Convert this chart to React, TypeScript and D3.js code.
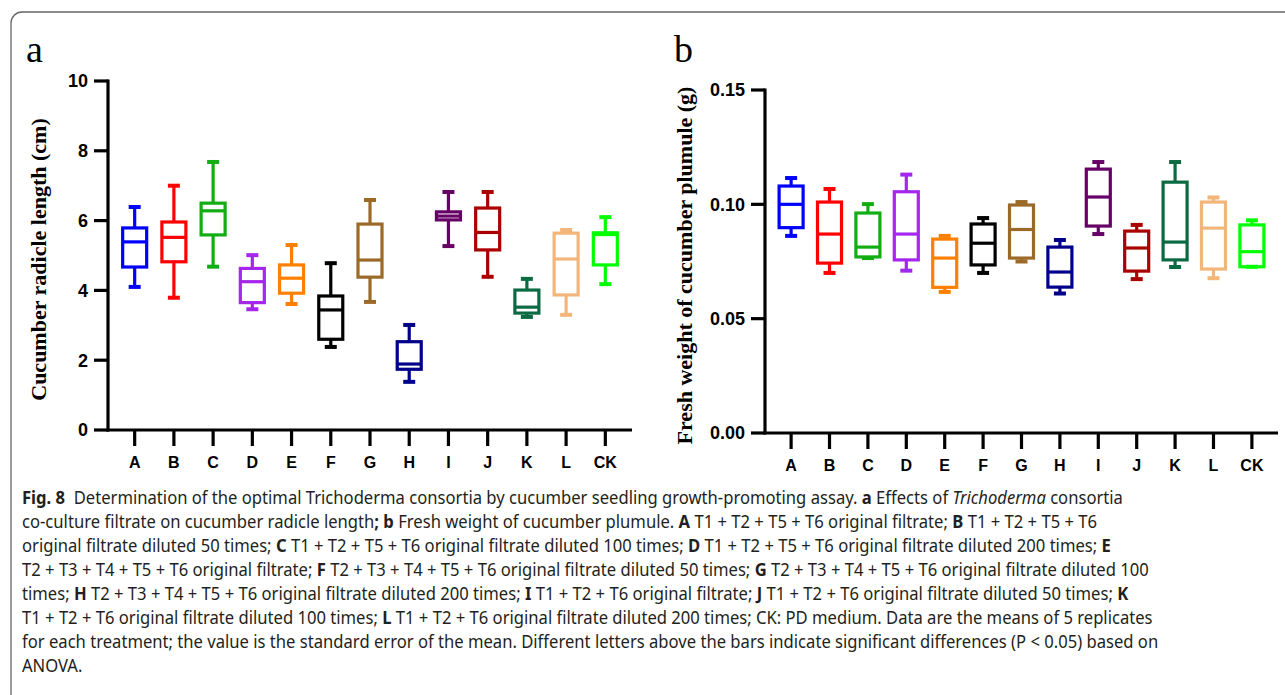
import * as d3 from "d3";
import React, { useLayoutEffect, useRef, useState } from "react";

const cats = ["A", "B", "C", "D", "E", "F", "G", "H", "I", "J", "K", "L", "CK"];
const boxColors = ["#0000ff", "#ff0000", "#12ad12", "#a526ee", "#ff8000", "#000000", "#9b6a28", "#00008b", "#660066", "#aa0000", "#0a6a42", "#f3b67a", "#00ff00"];

// panel a: cucumber radicle length (cm)
const radMax = [6.39, 7.0, 7.68, 5.01, 5.3, 4.78, 6.59, 3.01, 6.82, 6.82, 4.33, 5.73, 6.1];
const radQ3 = [5.79, 5.96, 6.5, 4.63, 4.73, 3.84, 5.9, 2.53, 6.25, 6.36, 4.01, 5.64, 5.65];
const radMed = [5.39, 5.52, 6.28, 4.25, 4.35, 3.44, 4.87, 1.89, 6.13, 5.66, 3.52, 4.9, 5.6];
const radQ1 = [4.67, 4.82, 5.59, 3.65, 3.92, 2.6, 4.38, 1.74, 6.02, 5.16, 3.35, 3.87, 4.73];
const radMin = [4.1, 3.79, 4.68, 3.46, 3.61, 2.38, 3.67, 1.38, 5.27, 4.39, 3.24, 3.3, 4.18];
const radTicks = [0, 2, 4, 6, 8, 10];

// panel b: fresh weight of plumule (g)
const wtMax = [0.1115, 0.1067, 0.1001, 0.113, 0.0862, 0.094, 0.101, 0.0844, 0.1185, 0.091, 0.1185, 0.103, 0.093];
const wtQ3 = [0.108, 0.101, 0.0962, 0.1055, 0.0848, 0.0914, 0.0997, 0.0813, 0.1154, 0.0883, 0.1097, 0.101, 0.091];
const wtMed = [0.1, 0.087, 0.0813, 0.087, 0.0765, 0.083, 0.089, 0.0704, 0.1032, 0.0809, 0.0835, 0.0896, 0.0793];
const wtQ1 = [0.0898, 0.0743, 0.077, 0.0757, 0.0637, 0.0735, 0.0765, 0.0638, 0.0905, 0.0708, 0.0757, 0.0717, 0.0727];
const wtMin = [0.0862, 0.07, 0.0765, 0.071, 0.0617, 0.07, 0.075, 0.061, 0.087, 0.0673, 0.0726, 0.0677, 0.0727];
const wtTicks = [0, 0.05, 0.1, 0.15];

type Seg = { t: string; b?: boolean; i?: boolean };
const captionLines: Seg[][] = [
  [{ t: "Fig. 8", b: true }, { t: "  Determination of the optimal Trichoderma consortia by cucumber seedling growth-promoting assay. " }, { t: "a", b: true }, { t: " Effects of " }, { t: "Trichoderma", i: true }, { t: " consortia" }],
  [{ t: "co-culture filtrate on cucumber radicle length" }, { t: "; b", b: true }, { t: " Fresh weight of cucumber plumule. " }, { t: "A", b: true }, { t: " T1 + T2 + T5 + T6 original filtrate; " }, { t: "B", b: true }, { t: " T1 + T2 + T5 + T6" }],
  [{ t: "original filtrate diluted 50 times; " }, { t: "C", b: true }, { t: " T1 + T2 + T5 + T6 original filtrate diluted 100 times; " }, { t: "D", b: true }, { t: " T1 + T2 + T5 + T6 original filtrate diluted 200 times; " }, { t: "E", b: true }],
  [{ t: "T2 + T3 + T4 + T5 + T6 original filtrate; " }, { t: "F", b: true }, { t: " T2 + T3 + T4 + T5 + T6 original filtrate diluted 50 times; " }, { t: "G", b: true }, { t: " T2 + T3 + T4 + T5 + T6 original filtrate diluted 100" }],
  [{ t: "times; " }, { t: "H", b: true }, { t: " T2 + T3 + T4 + T5 + T6 original filtrate diluted 200 times; " }, { t: "I", b: true }, { t: " T1 + T2 + T6 original filtrate; " }, { t: "J", b: true }, { t: " T1 + T2 + T6 original filtrate diluted 50 times; " }, { t: "K", b: true }],
  [{ t: "T1 + T2 + T6 original filtrate diluted 100 times; " }, { t: "L", b: true }, { t: " T1 + T2 + T6 original filtrate diluted 200 times; CK: PD medium. Data are the means of 5 replicates" }],
  [{ t: "for each treatment; the value is the standard error of the mean. Different letters above the bars indicate significant differences (P < 0.05) based on" }],
  [{ t: "ANOVA." }],
];

const W = 1285;
const H = 695;
const SW = 3.2;

function Panel(props: {
  left: number; right: number; top: number; bottom: number;
  max: number[]; q3: number[]; med: number[]; q1: number[]; min: number[];
  domain: [number, number]; ticks: number[]; fmt: (v: number) => string;
  title: string; titleX: number; letter: string; letterX: number;
}) {
  const { left, right, top, bottom } = props;
  const x = d3.scalePoint<string>().domain(cats).range([left, right]).padding(0.68);
  const y = d3.scaleLinear().domain(props.domain).range([bottom, top]);
  const bw = 24;
  const cw = 12;
  return (
    <g>
      <text x={props.letterX} y={62} fontFamily="'Liberation Serif', serif" fontSize={38}>{props.letter}</text>
      <text
        transform={`translate(${props.titleX},${(top + bottom) / 2 + 4}) rotate(-90)`}
        textAnchor="middle" fontFamily="'Liberation Serif', serif" fontWeight="bold" fontSize={22}
      >{props.title}</text>
      {cats.map((c, i) => {
        const cx = x(c)!;
        const col = boxColors[i];
        return (
          <g key={c} stroke={col} strokeWidth={SW} fill="none">
            <line x1={cx} x2={cx} y1={y(props.max[i])} y2={y(props.q3[i])} />
            <line x1={cx} x2={cx} y1={y(props.q1[i])} y2={y(props.min[i])} />
            <line x1={cx - cw / 2} x2={cx + cw / 2} y1={y(props.max[i])} y2={y(props.max[i])} strokeWidth={4} />
            <line x1={cx - cw / 2} x2={cx + cw / 2} y1={y(props.min[i])} y2={y(props.min[i])} strokeWidth={4} />
            <rect x={cx - bw / 2} width={bw} y={y(props.q3[i])} height={y(props.q1[i]) - y(props.q3[i])} />
            <line x1={cx - bw / 2} x2={cx + bw / 2} y1={y(props.med[i])} y2={y(props.med[i])} />
          </g>
        );
      })}
      <g stroke="#000" strokeWidth={SW}>
        <line x1={left} x2={left} y1={top - 1.5} y2={bottom + 1.5} />
        <line x1={left - 1.5} x2={right} y1={bottom} y2={bottom} />
        {props.ticks.map((t) => (
          <line key={t} x1={left - 14} x2={left} y1={y(t)} y2={y(t)} />
        ))}
        {cats.map((c) => (
          <line key={c} x1={x(c)!} x2={x(c)!} y1={bottom} y2={bottom + 16} />
        ))}
      </g>
      <g fontFamily="'Liberation Sans', Arial, sans-serif" fontWeight="bold" fill="#000">
        {props.ticks.map((t) => (
          <text key={t} x={left - 20} y={y(t)} dy="0.36em" textAnchor="end" fontSize={18}>{props.fmt(t)}</text>
        ))}
        {cats.map((c) => (
          <text key={c} x={x(c)!} y={bottom + 38} textAnchor="middle" fontSize={16}>{c}</text>
        ))}
      </g>
    </g>
  );
}

export default function App() {
  const fmtB = d3.format(".2f");
  const firstLine = useRef<SVGTextElement>(null);
  const [sx, setSx] = useState(0.88);

  // squeeze the caption horizontally so that the first line ends where the reference's does
  useLayoutEffect(() => {
    if (firstLine.current) {
      const len = firstLine.current.getComputedTextLength();
      if (len > 0) setSx(1100 / len);
    }
  }, []);

  return (
    <svg width={W} height={H} style={{ position: "absolute", left: 0, top: 0, background: "#fff" }}>
      <rect x={11} y={12} width={W + 20} height={H + 20} rx={11} fill="#fff" stroke="#666" strokeWidth={1.3} />
      <Panel
        left={108} right={632} top={81} bottom={430}
        max={radMax} q3={radQ3} med={radMed} q1={radQ1} min={radMin}
        domain={[0, 10]} ticks={radTicks} fmt={(v) => String(v)}
        title="Cucumber radicle length (cm)" titleX={46} letter="a" letterX={26}
      />
      <Panel
        left={765} right={1278} top={90} bottom={433}
        max={wtMax} q3={wtQ3} med={wtMed} q1={wtQ1} min={wtMin}
        domain={[0, 0.15]} ticks={wtTicks} fmt={fmtB}
        title="Fresh weight of cucumber plumule (g)" titleX={692} letter="b" letterX={674}
      />
      <g transform={`translate(22,0) scale(${sx},1)`} fontFamily="'Noto Sans', 'Open Sans', sans-serif" fontSize={18.5} fill="#231f20">
        {captionLines.map((line, li) => (
          <text key={li} ref={li === 0 ? firstLine : undefined} x={0} y={504 + li * 24}>
            {line.map((s, si) => (
              <tspan key={si} fontWeight={s.b ? "bold" : "normal"} fontStyle={s.i ? "italic" : "normal"} style={{ whiteSpace: "pre" }}>{s.t}</tspan>
            ))}
          </text>
        ))}
      </g>
    </svg>
  );
}
